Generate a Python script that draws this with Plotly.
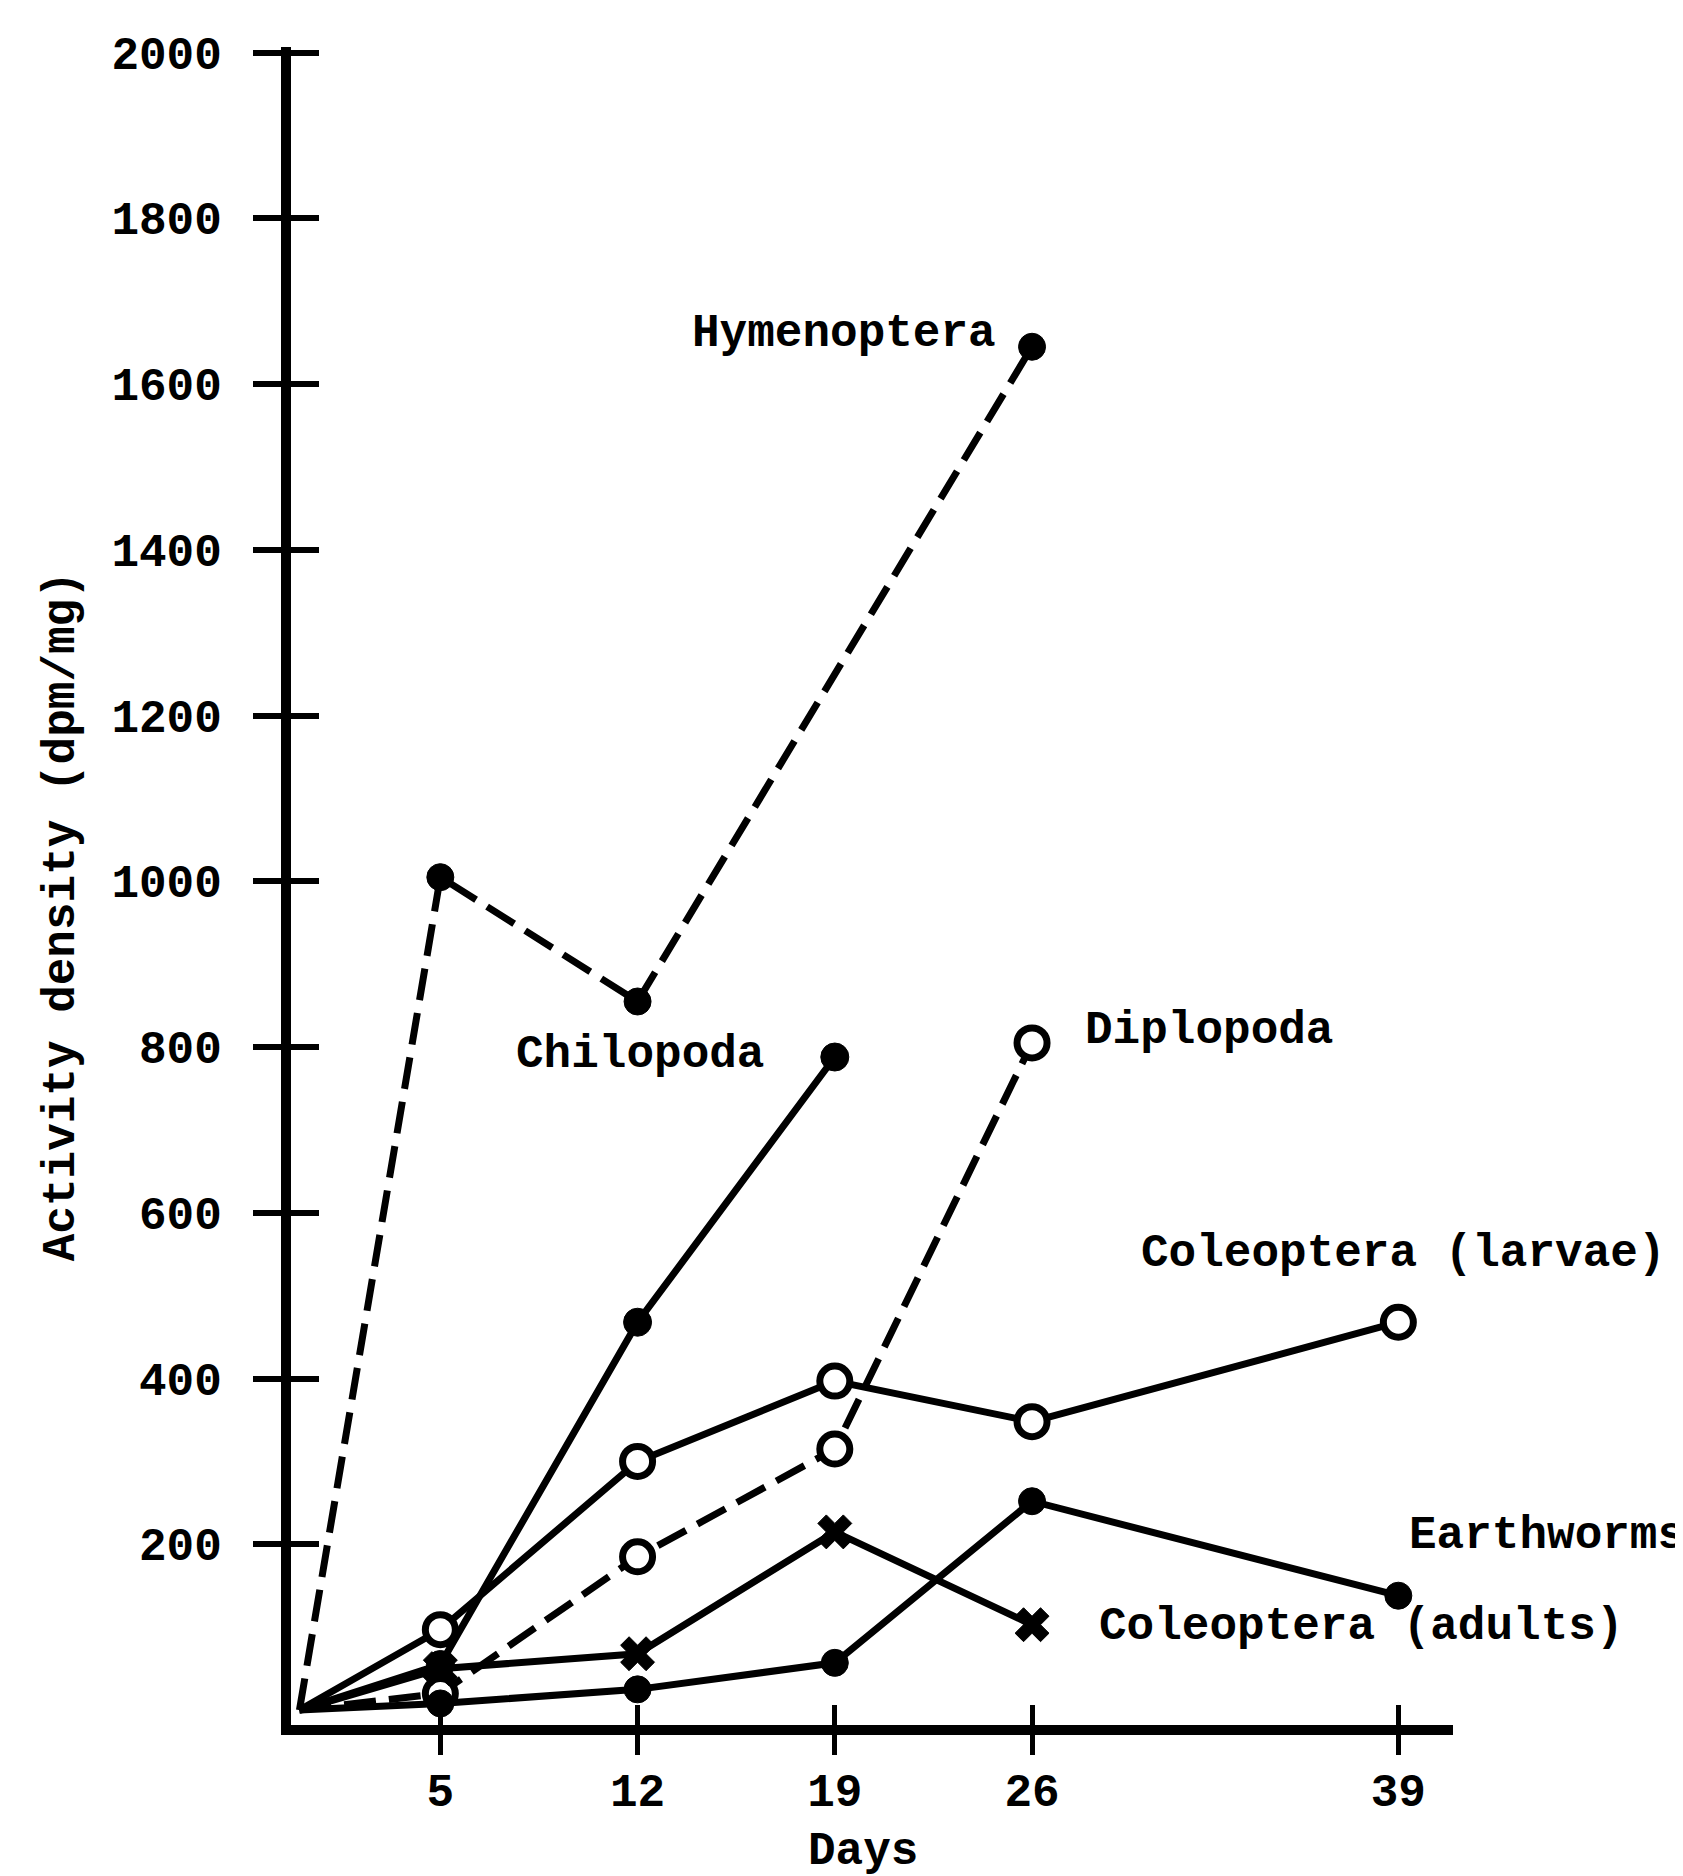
import plotly.graph_objects as go

# ---- data ----
hym_days = [0, 5, 12, 26]
hym_vals = [0, 1005, 855, 1645]

chil_days = [0, 5, 12, 19]
chil_vals = [0, 55, 468, 788]

dip_days = [0, 5, 12, 19, 26]
dip_vals = [0, 20, 185, 315, 805]

larv_days = [0, 5, 12, 19, 26, 39]
larv_vals = [0, 97, 300, 397, 348, 468]

adult_days = [0, 5, 12, 19, 26]
adult_vals = [0, 50, 68, 215, 103]

worm_days = [0, 5, 12, 19, 26, 39]
worm_vals = [0, 8, 25, 57, 252, 138]

x_ticks = [5, 12, 19, 26, 39]
y_ticks = [200, 400, 600, 800, 1000, 1200, 1400, 1600, 1800, 2000]

labels = [
    ("Hymenoptera", 24.8, 1660, "right"),
    ("Chilopoda", 7.6, 790, "left"),
    ("Diplopoda", 27.8, 820, "left"),
    ("Coleoptera (larvae)", 29.8, 550, "left"),
    ("Earthworms", 39.3, 210, "left"),
    ("Coleoptera (adults)", 28.3, 100, "left"),
]

FONT = dict(family="Liberation Mono", size=46, color="black", weight="bold")
LW = 7
DASH = "32px,13px"


def sizes(n, s):
    return [0] + [s] * (n - 1)


fig = go.Figure()

fig.add_trace(go.Scatter(
    x=hym_days, y=hym_vals, mode="lines+markers",
    line=dict(color="black", width=LW, dash=DASH),
    marker=dict(symbol="circle", size=sizes(len(hym_days), 27), color="#000000",
                opacity=1, line=dict(color="#000000", width=1)),
    name="Hymenoptera"))

fig.add_trace(go.Scatter(
    x=chil_days, y=chil_vals, mode="lines+markers",
    line=dict(color="black", width=LW),
    marker=dict(symbol="circle", size=sizes(len(chil_days), 28), color="#000000",
                opacity=1, line=dict(color="#000000", width=1)),
    name="Chilopoda"))

fig.add_trace(go.Scatter(
    x=dip_days, y=dip_vals, mode="lines+markers",
    line=dict(color="black", width=LW, dash=DASH),
    marker=dict(symbol="circle", size=sizes(len(dip_days), 30), color="white",
                opacity=1, line=dict(color="#000000", width=7)),
    name="Diplopoda"))

fig.add_trace(go.Scatter(
    x=larv_days, y=larv_vals, mode="lines+markers",
    line=dict(color="black", width=LW),
    marker=dict(symbol="circle", size=sizes(len(larv_days), 30), color="white",
                opacity=1, line=dict(color="#000000", width=7)),
    name="Coleoptera (larvae)"))

fig.add_trace(go.Scatter(
    x=adult_days, y=adult_vals, mode="lines+markers",
    line=dict(color="black", width=LW),
    marker=dict(symbol="x", size=sizes(len(adult_days), 30), color="#000000",
                opacity=1, line=dict(color="#000000", width=1)),
    name="Coleoptera (adults)"))

fig.add_trace(go.Scatter(
    x=worm_days, y=worm_vals, mode="lines+markers",
    line=dict(color="black", width=LW),
    marker=dict(symbol="circle", size=sizes(len(worm_days), 27), color="#000000",
                opacity=1, line=dict(color="#000000", width=1)),
    name="Earthworms"))

# invisible trace to activate the overlay axes (inner half of crossing ticks)
fig.add_trace(go.Scatter(
    x=hym_days, y=hym_vals, xaxis="x2", yaxis="y2", mode="markers",
    marker=dict(opacity=0), hoverinfo="skip", showlegend=False))

XR = [-0.3, 40.94]
YR = [-18, 2006.7]

fig.update_layout(
    width=1683, height=1876,
    margin=dict(l=283, r=238, t=39, b=159),
    paper_bgcolor="white", plot_bgcolor="white",
    showlegend=False,
    xaxis=dict(range=XR, showgrid=False, zeroline=False,
               showline=True, linecolor="black", linewidth=10,
               tickvals=x_ticks, ticktext=[str(v) for v in x_ticks],
               ticks="outside", ticklen=20, tickwidth=5, tickcolor="black",
               tickfont=FONT, ticklabelstandoff=-4),
    yaxis=dict(range=YR, showgrid=False, zeroline=False,
               showline=True, linecolor="black", linewidth=10,
               tickvals=y_ticks, ticktext=[str(v) for v in y_ticks],
               ticks="outside", ticklen=28, tickwidth=6, tickcolor="black",
               tickfont=FONT, ticklabelstandoff=22),
    xaxis2=dict(range=XR, overlaying="x", anchor="y", side="bottom",
                showgrid=False, zeroline=False, showline=False,
                tickvals=x_ticks, ticks="inside", ticklen=20, tickwidth=5,
                tickcolor="black", showticklabels=False),
    yaxis2=dict(range=YR, overlaying="y", anchor="x", side="left",
                showgrid=False, zeroline=False, showline=False,
                tickvals=y_ticks, ticks="inside", ticklen=28, tickwidth=6,
                tickcolor="black", showticklabels=False),
)

for text, x, y, anchor in labels:
    fig.add_annotation(x=x, y=y, xref="x", yref="y", text=text,
                       showarrow=False, xanchor=anchor, yanchor="middle",
                       font=FONT)

fig.add_annotation(x=0.492, y=-0.0757, xref="paper", yref="paper",
                   text="Days", showarrow=False, xanchor="center",
                   yanchor="middle", font=FONT)
fig.add_annotation(x=-0.197, y=0.482, xref="paper", yref="paper",
                   text="Activity density (dpm/mg)", textangle=-90,
                   showarrow=False, xanchor="center", yanchor="middle",
                   font=FONT)

fig.write_html("out.html")
